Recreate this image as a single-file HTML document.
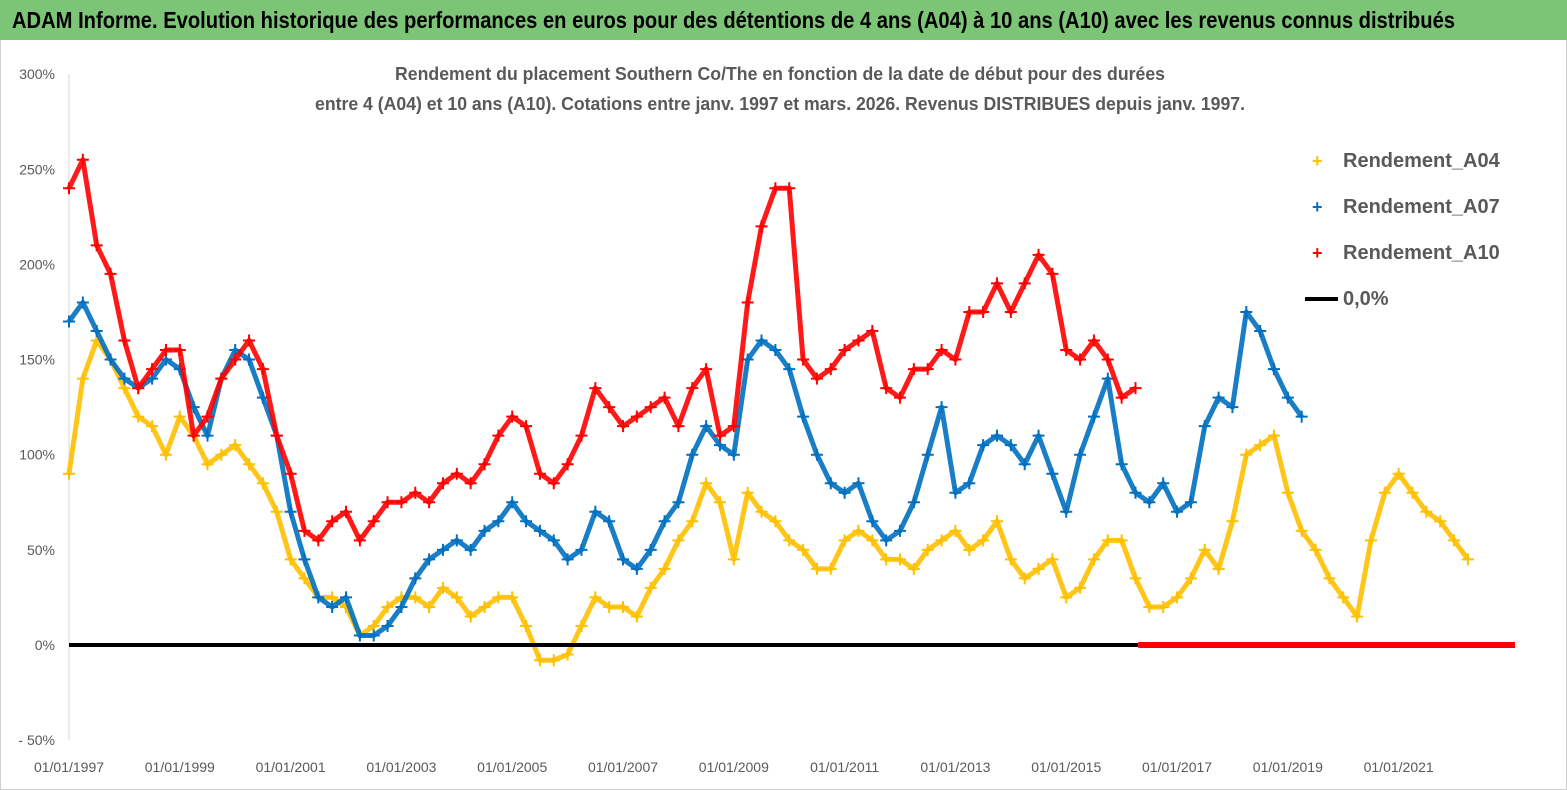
<!DOCTYPE html>
<html><head><meta charset="utf-8">
<style>
html,body{margin:0;padding:0;background:#fff;}
svg{display:block;font-family:"Liberation Sans Narrow","Liberation Sans",sans-serif;}
</style></head>
<body>
<svg id="chart" width="1567" height="790" viewBox="0 0 1567 790">
  <rect x="0" y="0" width="1567" height="790" fill="#fff"/>
  <rect x="0.5" y="0.5" width="1566" height="789" fill="none" stroke="#d0d0d0"/>
  <rect x="0" y="0" width="1567" height="40" fill="#7cc576"/>
  <text x="12" y="28" font-size="23" font-weight="bold" fill="#000" textLength="1443" lengthAdjust="spacingAndGlyphs">ADAM Informe. Evolution historique des performances en euros pour des détentions de 4 ans (A04) à 10 ans (A10) avec les revenus connus distribués</text>
  <text x="780" y="80" font-size="18" font-weight="bold" fill="#595959" text-anchor="middle" textLength="770" lengthAdjust="spacingAndGlyphs">Rendement du placement Southern Co/The en fonction de la date de début pour des durées</text>
  <text x="780" y="110" font-size="18" font-weight="bold" fill="#595959" text-anchor="middle" textLength="930" lengthAdjust="spacingAndGlyphs">entre 4 (A04) et 10 ans (A10).  Cotations entre janv. 1997 et mars. 2026. Revenus DISTRIBUES depuis janv. 1997.</text>
  <g id="axes"></g>
  <g id="series"></g>
  <g id="legend">
    <rect x="1290" y="135" width="220" height="185" fill="#fff"/>
    <g><text x="1312" y="167" font-size="18" fill="#ffc000" font-weight="bold">+</text><text x="1343" y="167" font-size="20" font-weight="bold" fill="#595959">Rendement_A04</text></g>
    <g><text x="1312" y="213" font-size="18" fill="#0070c0" font-weight="bold">+</text><text x="1343" y="213" font-size="20" font-weight="bold" fill="#595959">Rendement_A07</text></g>
    <g><text x="1312" y="259" font-size="18" fill="#ff0000" font-weight="bold">+</text><text x="1343" y="259" font-size="20" font-weight="bold" fill="#595959">Rendement_A10</text></g>
    <g><line x1="1305" y1="299" x2="1338" y2="299" stroke="#000" stroke-width="4"/><text x="1343" y="305" font-size="20" font-weight="bold" fill="#595959">0,0%</text></g>
  </g>
</svg>
<script>
const yTicks=[300,250,200,150,100,50,0,-50];
const yTickLabels=["300%","250%","200%","150%","100%","50%","0%","- 50%"];
const xTickYears=[1997,1999,2001,2003,2005,2007,2009,2011,2013,2015,2017,2019,2021];
const xTickLabels=["01/01/1997","01/01/1999","01/01/2001","01/01/2003","01/01/2005","01/01/2007","01/01/2009","01/01/2011","01/01/2013","01/01/2015","01/01/2017","01/01/2019","01/01/2021"];
const a04Start=1997;
const a04=[90,140,160,150,135,120,115,100,120,110,95,100,105,95,85,70,45,35,25,25,20,5,10,20,25,25,20,30,25,15,20,25,25,10,-8,-8,-5,10,25,20,20,15,30,40,55,65,85,75,45,80,70,65,55,50,40,40,55,60,55,45,45,40,50,55,60,50,55,65,45,35,40,45,25,30,45,55,55,35,20,20,25,35,50,40,65,100,105,110,80,60,50,35,25,15,55,80,90,80,70,65,55,45];
const a07Start=1997;
const a07=[170,180,165,150,140,135,140,150,145,125,110,140,155,150,130,110,70,45,25,20,25,5,5,10,20,35,45,50,55,50,60,65,75,65,60,55,45,50,70,65,45,40,50,65,75,100,115,105,100,150,160,155,145,120,100,85,80,85,65,55,60,75,100,125,80,85,105,110,105,95,110,90,70,100,120,140,95,80,75,85,70,75,115,130,125,175,165,145,130,120];
const a10Start=1997;
const a10=[240,255,210,195,160,135,145,155,155,110,120,140,150,160,145,110,90,60,55,65,70,55,65,75,75,80,75,85,90,85,95,110,120,115,90,85,95,110,135,125,115,120,125,130,115,135,145,110,115,180,220,240,240,150,140,145,155,160,165,135,130,145,145,155,150,175,175,190,175,190,205,195,155,150,160,150,130,135];
const zeroLineRange=[1997,2016.3];
const a10ZeroTail=[2016.3,2023.1];

const X0=69,X1=1515,T0=1997,T1=2023.1;
const Y0=645,PXPCT=1.903;
const xs=t=>X0+(t-T0)*(X1-X0)/(T1-T0);
const ys=v=>Y0-v*PXPCT;
const NS="http://www.w3.org/2000/svg";
const axes=document.getElementById('axes');
const ser=document.getElementById('series');
function mk(tag,attrs,parent){const e=document.createElementNS(NS,tag);for(const k in attrs)e.setAttribute(k,attrs[k]);parent.appendChild(e);return e;}

let ax=mk('line',{x1:X0,y1:ys(300),x2:X0,y2:ys(-50),stroke:'#d9d9d9','stroke-width':1},axes);


yTicks.forEach((v,i)=>{
  const t=mk('text',{x:X0-14,y:ys(v)+5,'font-size':14,fill:'#595959','text-anchor':'end'},axes);
  t.textContent=yTickLabels[i];
  
  
});
xTickYears.forEach((yr,i)=>{
  const t=mk('text',{x:xs(yr),y:772,'font-size':14,fill:'#595959','text-anchor':'middle'},axes);
  t.textContent=xTickLabels[i];
  
  
});

function drawSeries(arr,start,color,name){
  const g=mk('g',{},ser);
  
  
  const pts=arr.map((v,i)=>[xs(start+i*0.25),ys(v)]);
  mk('polyline',{points:pts.map(p=>p.join(',')).join(' '),fill:'none',stroke:color,'stroke-width':5,'stroke-opacity':0.9,'stroke-linejoin':'round'},g);
  pts.forEach(p=>{
    const c=mk('path',{d:`M${p[0]-6},${p[1]}h12M${p[0]},${p[1]-6}v12`,stroke:color,'stroke-width':2},g);
    
    
  });
}
drawSeries(a04,a04Start,'#ffc000','series-a04');
drawSeries(a07,a07Start,'#0070c0','series-a07');
drawSeries(a10,a10Start,'#ff0000','series-a10');

let zl=mk('line',{x1:xs(zeroLineRange[0]),y1:ys(0),x2:xs(zeroLineRange[1]),y2:ys(0),stroke:'#000','stroke-width':4},ser);


let zt=mk('line',{x1:xs(a10ZeroTail[0]),y1:ys(0),x2:xs(a10ZeroTail[1]),y2:ys(0),stroke:'#ff0000','stroke-width':6},ser);


</script>
</body></html>
